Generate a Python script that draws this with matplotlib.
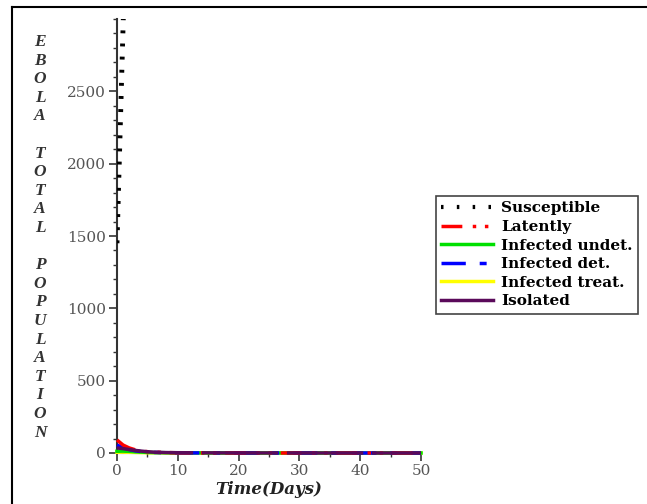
import numpy as np
import matplotlib.pyplot as plt
from matplotlib.lines import Line2D
from matplotlib.ticker import MultipleLocator

# Model output (days, people)
t = [0, 1, 2, 3, 4, 5, 6, 8, 10, 15, 20, 30, 40, 50]
latently = [90, 55, 35, 22, 14, 9, 6, 3, 1.5, 0.5, 0.2, 0.1, 0.05, 0]
infected_undet = [12, 13, 11, 8, 6, 4, 3, 2, 1, 0.5, 0.2, 0.1, 0, 0]
infected_det = [55, 38, 24, 15, 10, 6, 4, 2, 1, 0.4, 0.2, 0.1, 0, 0]
infected_treat = [5, 6, 5, 4, 3, 2, 1.5, 1, 0.5, 0.2, 0.1, 0, 0, 0]
isolated = [35, 30, 24, 18, 13, 9, 6, 3, 2, 1, 0.5, 0.2, 0.1, 0]

# susceptibles climb steeply right after t=0 and leave the view
t_s = [0, 0.2, 0.4, 0.6, 0.8, 1.0, 1.2]
susceptible = [1450, 1750, 2050, 2350, 2650, 2950, 3250]

ylabel_letters = "EBOLA TOTAL POPULATION"

fig = plt.figure(figsize=(6.47, 5.04), dpi=100)
ax = fig.add_axes([117 / 647, 51 / 504, 304 / 647, 434 / 504])

serif = "DejaVu Serif"
times = "Liberation Serif"

# line styles: (name, colour, linestyle)
styles = [
    ("Susceptible", "black", (0, (0.6, 3.2))),
    ("Latently", "#ff0000", (0, (6, 3, 1, 2.5, 1, 2.5))),
    ("Infected undet.", "#00e000", "-"),
    ("Infected det.", "#0000ff", (0, (7, 4, 2, 4))),
    ("Infected treat.", "#ffff00", "-"),
    ("Isolated", "#5a0a5a", "-"),
]
st = {name: (c, ls) for name, c, ls in styles}

curves = [
    ("Infected treat.", t, infected_treat),
    ("Infected undet.", t, infected_undet),
    ("Infected det.", t, infected_det),
    ("Latently", t, latently),
]
for name, x, y in curves:
    c, ls = st[name]
    ax.plot(x, y, color=c, lw=2.5, linestyle=ls, clip_on=False, zorder=3)
ax.plot(t, isolated, color=st["Isolated"][0], lw=2.5, dashes=(22, 2.5), clip_on=False, zorder=3)
ax.plot(t_s, susceptible, color="black", lw=3.5, linestyle=(0, (0.6, 2.1)), zorder=3)

ax.set_xlim(0, 50)
ax.set_ylim(0, 3000)
ax.xaxis.set_major_locator(MultipleLocator(10))
ax.xaxis.set_minor_locator(MultipleLocator(5))
ax.yaxis.set_minor_locator(MultipleLocator(100))
ax.set_yticks([0, 500, 1000, 1500, 2000, 2500])

for side in ("top", "right"):
    ax.spines[side].set_visible(False)
for side in ("left", "bottom"):
    ax.spines[side].set_linewidth(1.5)
    ax.spines[side].set_color("#333333")
ax.tick_params(which="major", direction="out", length=6, width=1.2, color="#333333",
               labelsize=11, labelcolor="#555555", pad=2)
ax.tick_params(which="minor", direction="out", length=3, width=1, color="#333333")
for lab in ax.get_xticklabels() + ax.get_yticklabels():
    lab.set_fontfamily(serif)

ax.set_xlabel("Time(Days)", fontfamily=serif, fontweight="bold", fontstyle="italic",
              fontsize=12, color="#222222", labelpad=2)

# vertical axis title, one letter per row
y = 42
for ch in ylabel_letters:
    if ch != " ":
        fig.text(40 / 647, 1 - y / 504, ch, ha="center", va="center", fontsize=12.5,
                 fontfamily=times, fontweight="bold", fontstyle="italic", color="#333333")
    y += 18.6

legend_handles = [Line2D([], [], color=c, lw=3 if n == "Susceptible" else 2.5, linestyle=ls)
                  for n, c, ls in styles]
leg = fig.legend(legend_handles, [s[0] for s in styles], loc="upper left",
                 bbox_to_anchor=(436 / 647, 1 - 196 / 504), fancybox=False,
                 edgecolor="#444444", framealpha=1, handlelength=3.4, handletextpad=0.5,
                 labelspacing=0.3, borderpad=0.35, borderaxespad=0,
                 prop={"family": serif, "weight": "bold", "size": 11})
leg.get_frame().set_linewidth(1.2)

# border on the top and left of the figure
fig.add_artist(Line2D([12 / 647, 1], [1 - 7 / 504, 1 - 7 / 504], color="black", lw=1.5))
fig.add_artist(Line2D([12 / 647, 12 / 647], [0, 1 - 7 / 504], color="black", lw=1.5))

fig.savefig("out.png", dpi=100)
